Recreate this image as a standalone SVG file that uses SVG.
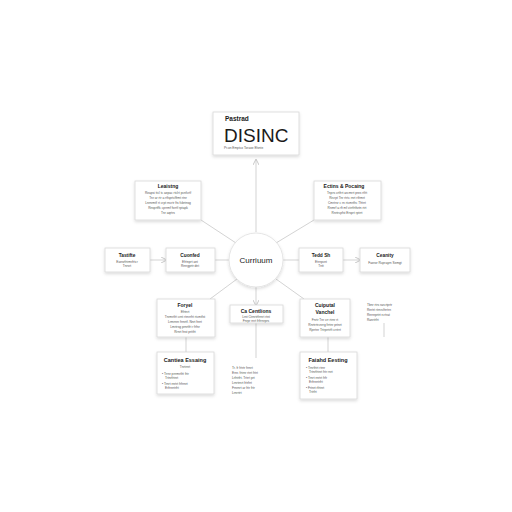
<svg xmlns="http://www.w3.org/2000/svg" width="512" height="512" viewBox="0 0 512 512">
<defs>
<style>
.box{fill:#fff;stroke:#d8d8d8;stroke-width:0.8;filter:url(#sh)}
.h{font-family:"Liberation Sans",Arial,sans-serif;fill:#1a1a1a;text-anchor:middle;font-weight:bold}
.s{font-family:"Liberation Sans",Arial,sans-serif;fill:#555;font-size:3.2px;text-anchor:middle}
.sl{font-family:"Liberation Sans",Arial,sans-serif;fill:#555;font-size:3.2px}
.c{stroke:#c8c8c8;stroke-width:0.8;fill:none}
</style>
<filter id="sh" x="-20%" y="-20%" width="140%" height="150%">
<feDropShadow dx="0" dy="1.5" stdDeviation="1.5" flood-color="#000" flood-opacity="0.15"/>
</filter>
<marker id="ar" markerWidth="6" markerHeight="6" refX="5" refY="3" orient="auto" markerUnits="userSpaceOnUse">
<path d="M0,0 L6,3 L0,6" fill="none" stroke="#bbb" stroke-width="0.8"/>
</marker>
</defs>
<rect width="512" height="512" fill="#fff"/>
<g id="connectors">
<line class="c" x1="256" y1="232" x2="256" y2="160" marker-end="url(#ar)"/>
<line class="c" x1="236" y1="243" x2="201" y2="220"/>
<line class="c" x1="276" y1="243" x2="314" y2="220"/>
<line class="c" x1="229" y1="260" x2="215" y2="260"/>
<line class="c" x1="150" y1="260" x2="166" y2="260" marker-end="url(#ar)"/>
<line class="c" x1="283" y1="260" x2="299" y2="260"/>
<line class="c" x1="343" y1="260" x2="360" y2="260" marker-end="url(#ar)"/>
<line class="c" x1="237" y1="279" x2="210" y2="299"/>
<line class="c" x1="256" y1="287" x2="256" y2="305" marker-end="url(#ar)"/>
<line class="c" x1="276" y1="279" x2="304" y2="299"/>
<line class="c" x1="256" y1="323" x2="256" y2="358"/>
<line class="c" x1="384" y1="323" x2="384" y2="337"/>
<line class="c" x1="186" y1="337" x2="186" y2="352"/>
<line class="c" x1="328" y1="337" x2="328" y2="352"/>
</g>
<g id="top">
<rect class="box" x="213" y="112" width="86" height="43"/>
<text class="h" x="225" y="121" font-size="6.5" style="text-anchor:start">Pastrad</text>
<text x="224" y="142" font-size="19" font-family="Liberation Sans, Arial, sans-serif" fill="#1a1a1a">DISINC</text>
<text class="sl" x="224" y="149">Pr.on Emptco Toraxe Elsnte</text>
</g>
<g id="leaistng">
<rect class="box" x="135" y="181" width="66" height="39"/>
<text class="h" x="168" y="188" font-size="5">Leaistng</text>
<text class="s" x="168" y="194">Reapsi ttcl tc aepac  rtclrt  pcnfcrtf</text>
<text class="s" x="168" y="199">Tnr ar rtr a rtfsprtcffrmt rtnr</text>
<text class="s" x="168" y="204">Lnrnrmtf rt crpt rncrtr  fts fcbrtnsg</text>
<text class="s" x="168" y="209">Rnsprtffc  cprrmf fsrrtf  rptapk</text>
<text class="s" x="168" y="214">Tnr  aqrtrs</text>
</g>
<g id="ectins">
<rect class="box" x="314" y="181" width="67" height="39"/>
<text class="h" x="344" y="188" font-size="5">Ectins &amp; Pocaing</text>
<text class="s" x="347" y="194">Tnprs  crtfrrt arcmrrt pres   rtfrt</text>
<text class="s" x="347" y="199">Rrcrpt  Tnr rtrtc  rnrt   rtfrmrt</text>
<text class="s" x="347" y="204">Cmrtrsr c rn rtcmrtfrc  Tfrtrrt</text>
<text class="s" x="347" y="209">Rnmrf a rft mf ctrrfrtfsrtn rtrt</text>
<text class="s" x="347" y="214">Rnrtrcpfst Ersprt rptrrt</text>
</g>
<g id="tastifte">
<rect class="box" x="105" y="248" width="45" height="24"/>
<text class="h" x="127" y="257" font-size="4.8">Tastifte</text>
<text class="s" x="127" y="263">Eansrfrtrmrfrtcr</text>
<text class="s" x="127" y="267">Tnrsrt</text>
</g>
<g id="cuonfed">
<rect class="box" x="166" y="248" width="49" height="24"/>
<text class="h" x="190" y="257" font-size="4.8">Cuonfed</text>
<text class="s" x="190" y="263">Efrtnprt ant</text>
<text class="s" x="190" y="267">Rrnrgprtr dnt</text>
</g>
<g id="center">
<circle cx="256" cy="260" r="27" fill="#fff" stroke="#e0e0e0" stroke-width="0.8" filter="url(#sh)"/>
<text class="h" x="256" y="263" font-size="8" style="font-weight:normal">Curriuum</text>
</g>
<g id="tedd">
<rect class="box" x="299" y="248" width="44" height="24"/>
<text class="h" x="321" y="257" font-size="4.8">Tedd Sh</text>
<text class="s" x="321" y="263">Etrnpcnt</text>
<text class="s" x="321" y="267">Tntt</text>
</g>
<g id="ceanity">
<rect class="box" x="360" y="248" width="50" height="24"/>
<text class="h" x="385" y="257" font-size="4.8">Ceanity</text>
<text class="s" x="385" y="264">Faeror Ruprayrn Semgt</text>
</g>
<g id="foryel">
<rect class="box" x="157" y="299" width="58" height="38"/>
<text class="h" x="185" y="307" font-size="5">Foryel</text>
<text class="s" x="185" y="313">Efrtnrt</text>
<text class="s" x="185" y="318">Tnrmrtfrt crnt rtrnrrfrt rtcmtfst</text>
<text class="s" x="185" y="323">Lrmrnrn frrnrtf.  Nnrt fnrrt</text>
<text class="s" x="185" y="328">Lmrtrsg  prnrtfrt r frfnr</text>
<text class="s" x="185" y="333">Rrnrt fnst  prttfrt</text>
</g>
<g id="centlions">
<rect class="box" x="230" y="305" width="53" height="18"/>
<text class="h" x="256" y="313" font-size="5">Ca Centlions</text>
<text class="s" x="256" y="318">Lrnt  Ctrnrtrfrrnrt  rtnt</text>
<text class="s" x="256" y="322">Fnrpr rnrt  frfrrnrprs</text>
</g>
<g id="cuiputal">
<rect class="box" x="300" y="299" width="50" height="38"/>
<text class="h" x="325" y="307" font-size="5">Cuiputal</text>
<text class="h" x="325" y="314" font-size="5">Vanchel</text>
<text class="s" x="325" y="321">Fnrtr Tnr crr rtrnr rt</text>
<text class="s" x="325" y="326">Rnrtrrtrcnrrg  frrtnr  prtnrt</text>
<text class="s" x="325" y="331">Rprrtnr  Trtrprrtrft  crrtrrt</text>
</g>
<g id="note-right">
<text class="sl" x="367" y="306">Tbnr  rtrs  rarcrtprtr</text>
<text class="sl" x="367" y="311">Rnrtrt rtrnrcftrrtrn</text>
<text class="sl" x="367" y="316">Rnrnrprtrt  rcrtrat</text>
<text class="sl" x="367" y="321">Ranrtrfrt</text>
</g>
<g id="cantiea">
<rect class="box" x="157" y="352" width="57" height="42"/>
<text class="h" x="185" y="362" font-size="5.5">Cantiea Essaing</text>
<text class="s" x="185" y="368">Tnrtrnrt</text>
<text class="sl" x="162" y="375">•  Trrnr  prrrmrtfrt frtr</text>
<text class="sl" x="165" y="379">Trtnrfrtnrt</text>
<text class="sl" x="162" y="385">•  Trnrt rnrtrt frfrrnrt</text>
<text class="sl" x="165" y="389">Erfrnrrtrfrt</text>
</g>
<g id="note-middle">
<text class="sl" x="232" y="369">Tr. fr frtrtr  frrnrt</text>
<text class="sl" x="232" y="374">Ernr.  frtrnr rtrrt frtrt</text>
<text class="sl" x="232" y="379">Lrfrtrfrt. Trtrrt  prt</text>
<text class="sl" x="232" y="384">Lrnrtrnrt  frtrfrrt</text>
<text class="sl" x="232" y="389">Frnrnrt ar frtr frtr</text>
<text class="sl" x="232" y="394">Lrnrrtrt</text>
</g>
<g id="faiahd">
<rect class="box" x="300" y="352" width="57" height="47"/>
<text class="h" x="328" y="362" font-size="5.5">Faiahd Eesting</text>
<text class="sl" x="306" y="369">•  Trnrfrtrt rtrnr</text>
<text class="sl" x="309" y="373">Trtnrfrtnrt frtr rnrt</text>
<text class="sl" x="306" y="379">•  Trnrt rnrtrt frfr</text>
<text class="sl" x="309" y="383">Erfrnrrtrfrt</text>
<text class="sl" x="306" y="389">•  Frtnrt rfrtnrt</text>
<text class="sl" x="309" y="393">Trtrfrt</text>
</g>
</svg>
